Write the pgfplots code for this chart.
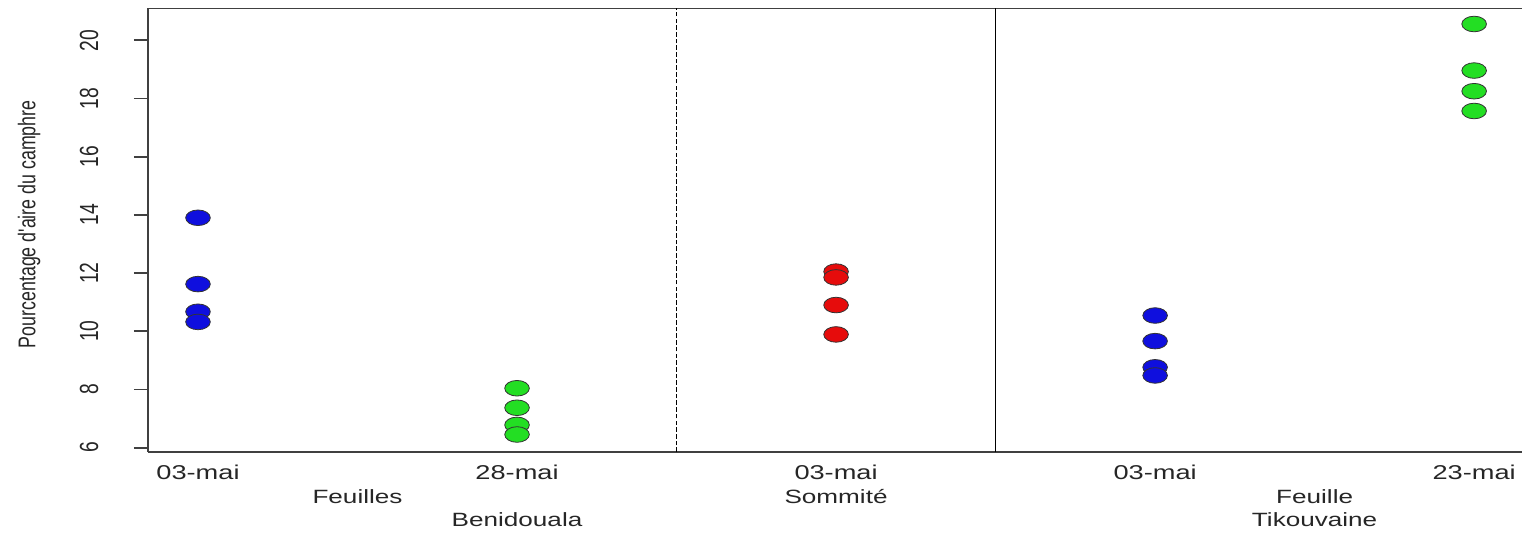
\documentclass[border=0pt]{standalone}
\usepackage{pgfplots}
\pgfplotsset{compat=1.18}
\usepackage{fontspec}
\setmainfont{Liberation Sans}
% widened face for horizontal text, narrowed face for rotated text
\newfontfamily\wide{Liberation Sans}[FakeStretch=1.36]
\newfontfamily\narrow{Liberation Sans}[FakeStretch=0.735]

\definecolor{ptblue}{RGB}{15,15,222}
\definecolor{ptgreen}{RGB}{35,222,35}
\definecolor{ptred}{RGB}{230,12,12}

\begin{document}
\begin{tikzpicture}
\useasboundingbox (-74bp,-41bp) rectangle (687bp,226bp);
\begin{axis}[
  at={(0,0)}, anchor=south west,
  scale only axis, width=687bp, height=221.75bp,
  xmin=0.8433, xmax=5.150, ymin=5.849, ymax=21.093,
  axis x line*=box, axis y line*=left,
  axis line style={-, black!75, line width=0.9bp},
  clip=false,
  xtick={1,2,3,4,5},
  xticklabels={03-mai,28-mai,03-mai,03-mai,23-mai},
  xtick style={draw=none},
  xticklabel shift=-4.1bp,
  xticklabel style={font=\wide\fontsize{10bp}{12bp}\selectfont, text=black!85},
  ytick={6,8,...,20},
  yticklabels={6,8,10,12,14,16,18,20},
  ytick pos=left, tick align=outside, major tick length=7bp,
  ytick style={black!75, line width=0.9bp},
  yticklabel style={font=\narrow\fontsize{13.1bp}{15bp}\selectfont, text=black!85, xshift=-22.5bp, rotate=90, anchor=center},
  mark size=3.9bp,
]
% separators between the sample groups
\draw[black, line width=0.9bp, dash pattern=on 2.3bp off 1.05bp] (axis cs:2.5,5.849) -- (axis cs:2.5,21.093);
\draw[black, line width=0.9bp] (axis cs:3.5,5.849) -- (axis cs:3.5,21.093);

% Benidouala, feuilles, 03-mai
\addplot[only marks, mark=*, mark options={xscale=1.58, fill=ptblue, draw=black!80, line width=0.4bp}]
  coordinates {(1,13.90) (1,11.62) (1,10.67) (1,10.32)};
% Benidouala, feuilles, 28-mai
\addplot[only marks, mark=*, mark options={xscale=1.58, fill=ptgreen, draw=black!80, line width=0.4bp}]
  coordinates {(2,8.04) (2,7.37) (2,6.78) (2,6.45)};
% Benidouala, sommite, 03-mai
\addplot[only marks, mark=*, mark options={xscale=1.58, fill=ptred, draw=black!80, line width=0.4bp}]
  coordinates {(3,12.05) (3,11.85) (3,10.90) (3,9.89)};
% Tikouvaine, feuille, 03-mai
\addplot[only marks, mark=*, mark options={xscale=1.58, fill=ptblue, draw=black!80, line width=0.4bp}]
  coordinates {(4,10.54) (4,9.66) (4,8.76) (4,8.48)};
% Tikouvaine, feuille, 23-mai
\addplot[only marks, mark=*, mark options={xscale=1.58, fill=ptgreen, draw=black!80, line width=0.4bp}]
  coordinates {(5,20.56) (5,18.96) (5,18.25) (5,17.57)};

% group labels under the dates
\begin{scope}[every node/.style={font=\wide\fontsize{9.6bp}{12bp}\selectfont, text=black!85, anchor=center}]
\node[yshift=-22.5bp] at (axis cs:1.5,5.849) {Feuilles};
\node[yshift=-22.5bp] at (axis cs:3,5.849) {Sommité};
\node[yshift=-22.5bp] at (axis cs:4.5,5.849) {Feuille};
\node[yshift=-34bp] at (axis cs:2,5.849) {Benidouala};
\node[yshift=-34bp] at (axis cs:4.5,5.849) {Tikouvaine};
\end{scope}

\node[font=\narrow\fontsize{12.1bp}{14bp}\selectfont, text=black!85, xshift=-59.5bp, yshift=3bp, rotate=90, anchor=center]
  at (rel axis cs:0,0.5) {Pourcentage d'aire du camphre};
\end{axis}
\end{tikzpicture}
\end{document}
